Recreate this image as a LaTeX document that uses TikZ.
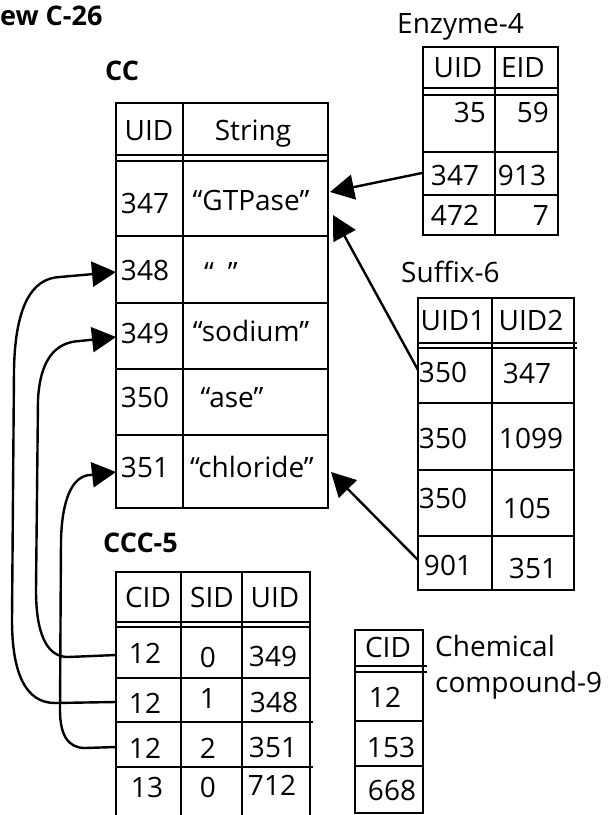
\documentclass[tikz,border=0pt]{standalone}
\usepackage{fontspec}
\setmainfont{Open Sans}
\usetikzlibrary{arrows.meta}
\begin{document}
\begin{tikzpicture}[x=1pt,y=-1pt,
  tb/.style={line width=2.5pt},
  txt/.style={inner sep=0pt,anchor=base,font=\fontsize{28}{32}\selectfont},
  ttl/.style={inner sep=0pt,anchor=base west,font=\fontsize{27}{32}\selectfont\bfseries},
  lbl/.style={inner sep=0pt,anchor=base west,font=\fontsize{28}{32}\selectfont},
  rt/.style={inner sep=0pt,anchor=base east,font=\fontsize{28}{32}\selectfont},
  arr/.style={line width=2.4pt,-{Triangle[length=24pt,width=25pt]}},
  con/.style={line width=2.4pt}]
\useasboundingbox (0,0) rectangle (613,815);

% titles
\node[ttl] (title) at (0,25) {ew C-26};
\node[ttl] (cclbl) at (105,80) {CC};
\node[ttl] (ccclbl) at (103,552) {CCC-5};
\node[lbl] (enzlbl) at (397,33) {Enzyme-4};
\node[lbl] (suflbl) at (401,282) {Suffix-6};
\node[lbl] (chem1) at (435,656) {Chemical};
\node[lbl] (chem2) at (435,692) {compound-9};

% CC table
\draw[tb] (116,103) rectangle (328,508);
\draw[tb] (183,103) -- (183,508);
\draw[tb] (116,155) -- (328,155) (116,161) -- (328,161);
\foreach \y in {236,303,369,435} \draw[tb] (116,\y) -- (328,\y);
\node[txt] (cch1) at (149,140) {UID};
\node[txt] (cch2) at (253,140) {String};
\node[txt] (cc1a) at (145,213) {347};
\node[txt] (cc1b) at (251,210) {“GTPase”};
\node[txt] (cc2a) at (145,280) {348};
\node[txt] (cc2b) at (221,282) {“\hspace{14pt}”};
\node[txt] (cc3a) at (145,343) {349};
\node[txt] (cc3b) at (251,341) {“sodium”};
\node[txt] (cc4a) at (145,407) {350};
\node[txt] (cc4b) at (232,407) {“ase”};
\node[txt] (cc5a) at (145,477) {351};
\node[txt] (cc5b) at (252,477) {“chloride”};

% Enzyme-4 table
\draw[tb] (423,47) rectangle (558,235);
\draw[tb] (495,47) -- (495,235);
\draw[tb] (423,88) -- (558,88) (423,95) -- (558,95);
\foreach \y in {152,195} \draw[tb] (423,\y) -- (558,\y);
\node[txt] (enh1) at (458,77) {UID};
\node[txt] (enh2) at (523,77) {EID};
\node[rt] (en1a) at (486,122) {35};
\node[rt] (en1b) at (549,122) {59};
\node[txt] (en2a) at (455,185) {347};
\node[txt] (en2b) at (522,185) {913};
\node[txt] (en3a) at (455,225) {472};
\node[rt] (en3b) at (549,225) {7};

% Suffix-6 table
\draw[tb] (418,298) rectangle (574,590);
\draw[tb] (492,298) -- (492,590);
\draw[tb] (418,343) -- (577,343) (418,348) -- (577,348);
\foreach \y in {403,470,536} \draw[tb] (418,\y) -- (574,\y);
\node[txt] (suh1) at (453,330) {UID1};
\node[txt] (suh2) at (531,330) {UID2};
\node[txt] (su1a) at (443,382) {350};
\node[txt] (su1b) at (527,383) {347};
\node[txt] (su2a) at (443,448) {350};
\node[txt] (su2b) at (531,448) {1099};
\node[txt] (su3a) at (443,508) {350};
\node[txt] (su3b) at (527,518) {105};
\node[txt] (su4a) at (448,575) {901};
\node[txt] (su4b) at (533,578) {351};

% CCC-5 table
\draw[tb] (116,816) -- (116,572) -- (310,572) -- (310,816);
\draw[tb] (181,572) -- (181,816) (242,572) -- (242,816);
\draw[tb] (116,622) -- (310,622) (116,627) -- (310,627);
\draw[tb] (116,678) -- (310,678);
\draw[tb] (116,722) -- (313,722) (116,767) -- (313,767);
\node[txt] (cch1) at (148,607) {CID};
\node[txt] (cch2) at (212,607) {SID};
\node[txt] (cch3) at (275,607) {UID};
\node[txt] (c1a) at (145,663) {12};
\node[txt] (c1b) at (208,667) {0};
\node[txt] (c1c) at (273,666) {349};
\node[txt] (c2a) at (145,713) {12};
\node[txt] (c2b) at (208,708) {1};
\node[txt] (c2c) at (274,712) {348};
\node[txt] (c3a) at (145,758) {12};
\node[txt] (c3b) at (208,758) {2};
\node[txt] (c3c) at (273,757) {351};
\node[txt] (c4a) at (147,797) {13};
\node[txt] (c4b) at (208,797) {0};
\node[txt] (c4c) at (272,795) {712};

% Chemical compound-9 table
\draw[tb] (355,630) rectangle (423,813);
\draw[tb] (355,666) -- (427,666) (355,672) -- (427,672);
\foreach \y in {721,766} \draw[tb] (355,\y) -- (423,\y);
\node[txt] (chh) at (388,657) {CID};
\node[txt] (ch1) at (385,707) {12};
\node[txt] (ch2) at (391,757) {153};
\node[txt] (ch3) at (392,800) {668};

% connector end points
\coordinate (ccA) at (330,192);
\coordinate (ccB) at (333,215);
\coordinate (ccC) at (331,472);
\coordinate (enz347) at (422,173);
\coordinate (suf1) at (418,370);
\coordinate (suf4) at (418,560);
\coordinate (cc348) at (116,272);
\coordinate (cc349) at (116,337);
\coordinate (cc351) at (116,472);
\coordinate (ccc1) at (116,655);
\coordinate (ccc2) at (116,702);
\coordinate (ccc3) at (116,747);

% connectors
\draw[arr] (enz347) -- (ccA);
\draw[arr] (suf1) -- (ccB);
\draw[arr] (suf4) -- (ccC);
\draw[arr] (ccc2) -- (55,703) .. controls (25,703) and (12,672) .. (12,620)
  -- (14,370) .. controls (15,310) and (30,278) .. (60,277) -- (cc348);
\draw[arr] (ccc1) -- (68,657) .. controls (45,657) and (36,630) .. (36,590)
  -- (38,400) .. controls (40,360) and (55,342) .. (80,341) -- (cc349);
\draw[arr] (ccc3) -- (85,748) .. controls (68,748) and (60,735) .. (60,710)
  -- (61,540) .. controls (62,500) and (72,476) .. (90,475) -- (cc351);
\end{tikzpicture}
\end{document}
